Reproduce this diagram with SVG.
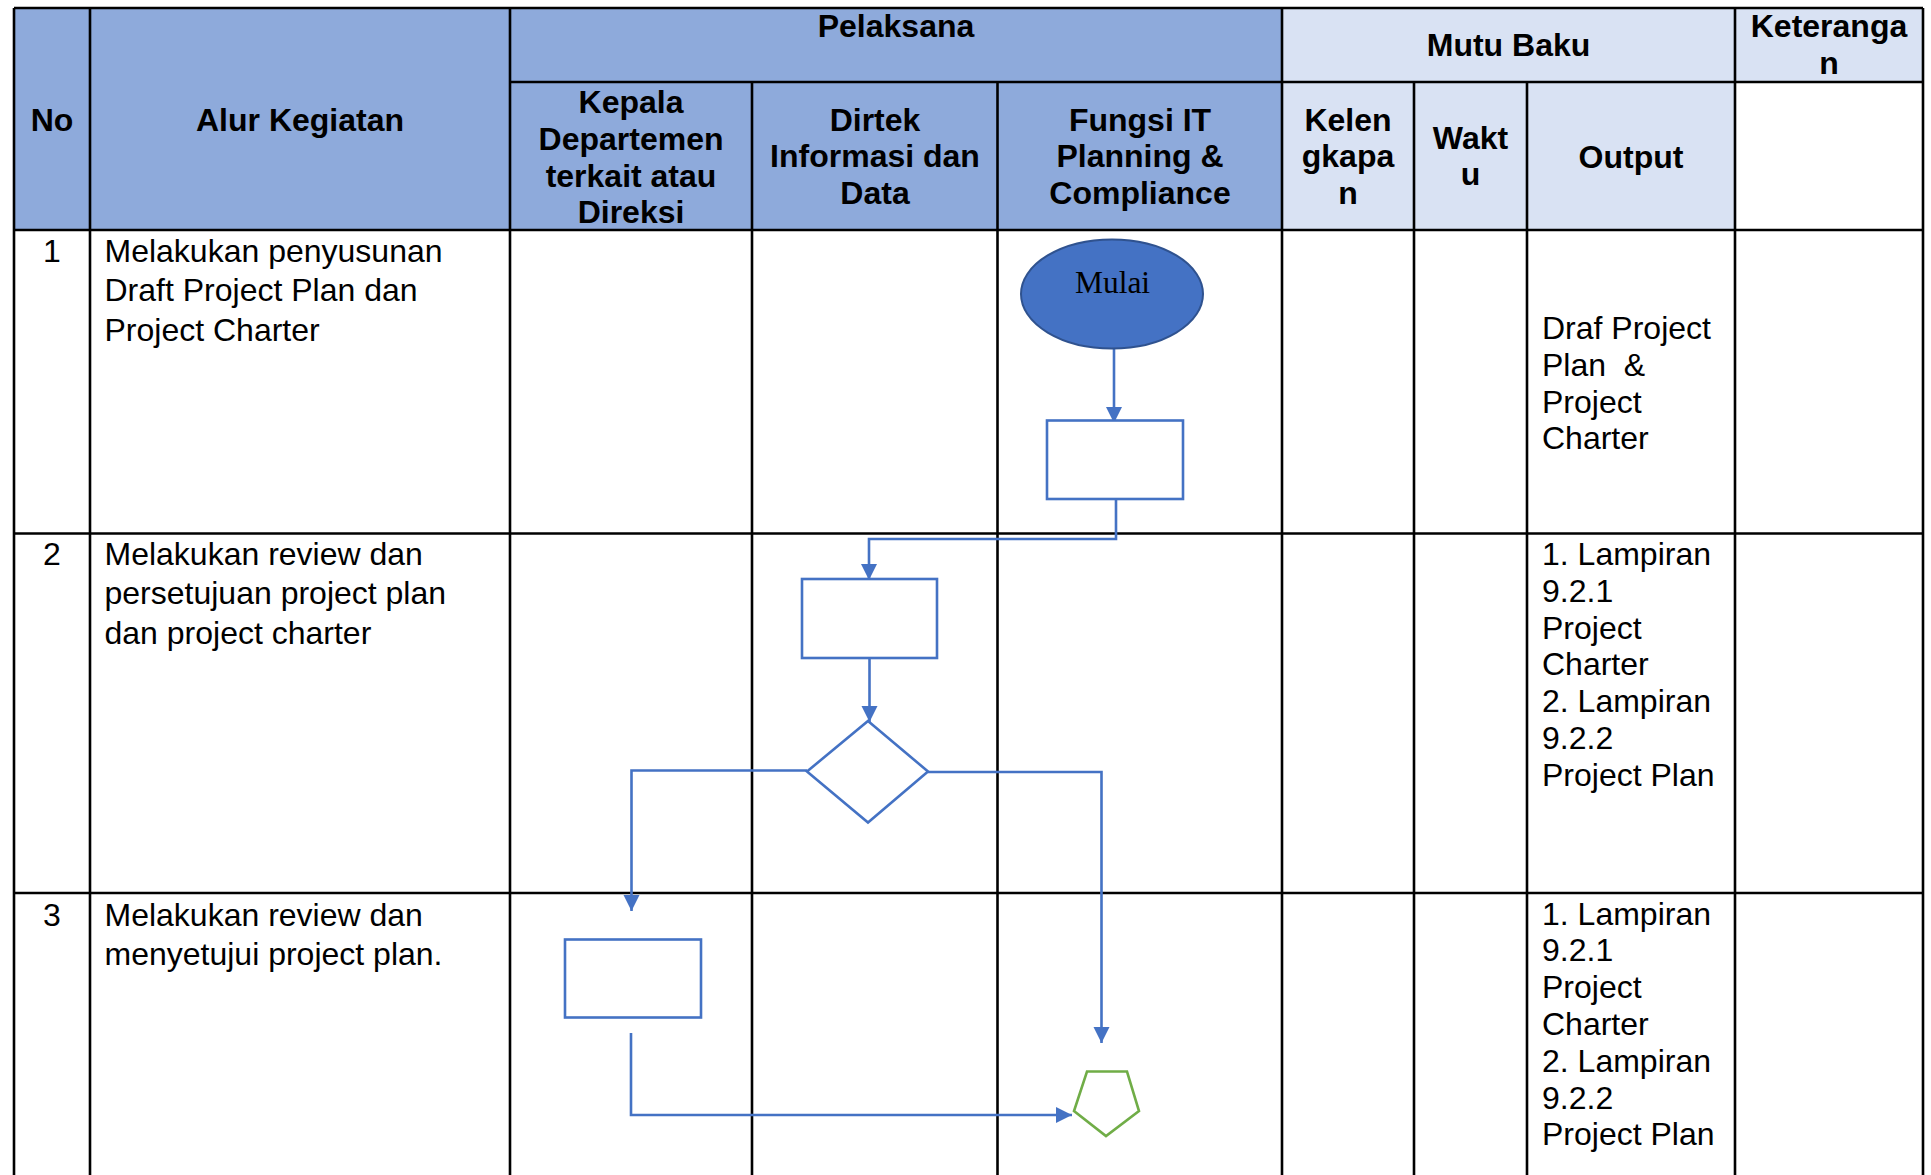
<svg xmlns="http://www.w3.org/2000/svg" width="1931" height="1175" viewBox="0 0 1931 1175">
  <style>
    .grid { stroke: #000; stroke-width: 2.6; fill: none; }
    .hd { font-family: "Liberation Sans", Arial, sans-serif; font-weight: bold; font-size: 32px; text-anchor: middle; fill: #000; }
    .tx { font-family: "Liberation Sans", Arial, sans-serif; font-size: 32px; fill: #000; white-space: pre; }
    .num { text-anchor: middle; }
    .shape { fill: #fff; stroke: #4472C4; stroke-width: 2.6; }
    .link { fill: none; stroke: #4472C4; stroke-width: 2.6; marker-end: url(#arrow); }
  </style>
  <defs>
    <marker id="arrow" markerUnits="userSpaceOnUse" markerWidth="18" markerHeight="18" viewBox="0 0 18 18" refX="16" refY="9" orient="auto">
      <path d="M0,1 L16,9 L0,17 z" fill="#4472C4"/>
    </marker>
  </defs>

  <rect width="1931" height="1175" fill="#fff"/>

  <!-- table: header fills -->
  <g id="table">
    <rect x="14" y="8" width="1268" height="222" fill="#8EAADB"/>
    <rect x="1282" y="8" width="453" height="222" fill="#D9E2F3"/>
    <rect x="1735" y="8" width="188" height="74" fill="#D9E2F3"/>

    <!-- rules -->
    <g class="grid">
      <line x1="14" y1="8" x2="1923" y2="8"/>
      <line x1="510" y1="82" x2="1923" y2="82"/>
      <line x1="14" y1="230" x2="1923" y2="230"/>
      <line x1="14" y1="533.5" x2="1923" y2="533.5"/>
      <line x1="14" y1="893" x2="1923" y2="893"/>
      <line x1="14" y1="8" x2="14" y2="1175"/>
      <line x1="90" y1="8" x2="90" y2="1175"/>
      <line x1="510" y1="8" x2="510" y2="1175"/>
      <line x1="752" y1="82" x2="752" y2="1175"/>
      <line x1="997.5" y1="82" x2="997.5" y2="1175"/>
      <line x1="1282" y1="8" x2="1282" y2="1175"/>
      <line x1="1414" y1="82" x2="1414" y2="1175"/>
      <line x1="1527" y1="82" x2="1527" y2="1175"/>
      <line x1="1735" y1="8" x2="1735" y2="1175"/>
      <line x1="1923" y1="8" x2="1923" y2="1175"/>
    </g>

    <!-- header labels -->
    <text class="hd" x="52" y="130.5">No</text>
    <text class="hd" x="300" y="130.5">Alur Kegiatan</text>
    <text class="hd" x="896" y="37">Pelaksana</text>
    <text class="hd" x="1508.5" y="56">Mutu Baku</text>
    <text class="hd" x="1829" y="37">Keteranga</text>
    <text class="hd" x="1829" y="74">n</text>

    <text class="hd" x="631" y="113">Kepala</text>
    <text class="hd" x="631" y="149.8">Departemen</text>
    <text class="hd" x="631" y="186.6">terkait atau</text>
    <text class="hd" x="631" y="223.4">Direksi</text>

    <text class="hd" x="875" y="130.5">Dirtek</text>
    <text class="hd" x="875" y="167.3">Informasi dan</text>
    <text class="hd" x="875" y="204.1">Data</text>

    <text class="hd" x="1140" y="130.5">Fungsi IT</text>
    <text class="hd" x="1140" y="167.3">Planning &amp;</text>
    <text class="hd" x="1140" y="204.1">Compliance</text>

    <text class="hd" x="1348" y="130.5">Kelen</text>
    <text class="hd" x="1348" y="167.3">gkapa</text>
    <text class="hd" x="1348" y="204.1">n</text>

    <text class="hd" x="1470.5" y="148.5">Wakt</text>
    <text class="hd" x="1470.5" y="185.3">u</text>

    <text class="hd" x="1631" y="167.5">Output</text>

    <!-- row 1 -->
    <text class="tx num" x="52" y="262">1</text>
    <text class="tx" x="104.5" y="262">Melakukan penyusunan</text>
    <text class="tx" x="104.5" y="301.4">Draft Project Plan dan</text>
    <text class="tx" x="104.5" y="340.8">Project Charter</text>
    <text class="tx" x="1542" y="339">Draf Project</text>
    <text class="tx" x="1542" y="375.8">Plan  &amp;</text>
    <text class="tx" x="1542" y="412.6">Project</text>
    <text class="tx" x="1542" y="449.4">Charter</text>

    <!-- row 2 -->
    <text class="tx num" x="52" y="565">2</text>
    <text class="tx" x="104.5" y="565">Melakukan review dan</text>
    <text class="tx" x="104.5" y="604.4">persetujuan project plan</text>
    <text class="tx" x="104.5" y="643.8">dan project charter</text>
    <text class="tx" x="1542" y="565">1. Lampiran</text>
    <text class="tx" x="1542" y="601.8">9.2.1</text>
    <text class="tx" x="1542" y="638.6">Project</text>
    <text class="tx" x="1542" y="675.4">Charter</text>
    <text class="tx" x="1542" y="712.2">2. Lampiran</text>
    <text class="tx" x="1542" y="749">9.2.2</text>
    <text class="tx" x="1542" y="785.8">Project Plan</text>

    <!-- row 3 -->
    <text class="tx num" x="52" y="925.5">3</text>
    <text class="tx" x="104.5" y="925.5">Melakukan review dan</text>
    <text class="tx" x="104.5" y="964.9">menyetujui project plan.</text>
    <text class="tx" x="1542" y="924.6">1. Lampiran</text>
    <text class="tx" x="1542" y="961.4">9.2.1</text>
    <text class="tx" x="1542" y="998.2">Project</text>
    <text class="tx" x="1542" y="1035">Charter</text>
    <text class="tx" x="1542" y="1071.8">2. Lampiran</text>
    <text class="tx" x="1542" y="1108.6">9.2.2</text>
    <text class="tx" x="1542" y="1145.4">Project Plan</text>
  </g>

  <!-- flow connectors -->
  <g id="connectors">
    <path class="link" d="M1114,348.5 L1114,423"/>
    <path class="link" d="M1116,499 L1116,539 L869,539 L869,580"/>
    <path class="link" d="M869.5,659 L869.5,722"/>
    <path class="link" d="M807,770.5 L631.5,770.5 L631.5,911"/>
    <path class="link" d="M928,772 L1101.5,772 L1101.5,1043"/>
    <path class="link" d="M631,1033 L631,1115 L1072,1115"/>
  </g>

  <!-- flow nodes -->
  <g id="start">
    <ellipse cx="1112" cy="294" rx="91" ry="54.5" fill="#4472C4" stroke="#2F528F" stroke-width="2"/>
    <text x="1112.5" y="292.5" font-family="Liberation Serif, 'Times New Roman', serif" font-size="31.5" text-anchor="middle" fill="#000">Mulai</text>
  </g>
  <g id="draft-plan">
    <rect class="shape" x="1047" y="420.5" width="136" height="78.5"/>
  </g>
  <g id="review-dirtek">
    <rect class="shape" x="802" y="579" width="135" height="79"/>
  </g>
  <g id="approval-decision">
    <polygon class="shape" points="868,721 928,771.5 868,822.5 807,771.5"/>
  </g>
  <g id="review-direksi">
    <rect class="shape" x="565" y="939.5" width="136" height="78"/>
  </g>
  <g id="end-connector">
    <polygon points="1087,1071.5 1127,1071.5 1139,1111 1106,1136 1074,1111" fill="#fff" stroke="#70AD47" stroke-width="2.6"/>
  </g>
</svg>
